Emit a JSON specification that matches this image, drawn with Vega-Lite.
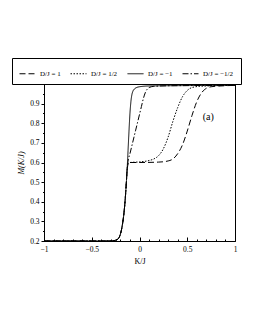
{
  "$schema": "https://vega.github.io/schema/vega-lite/v6.json",
  "width": 191,
  "height": 157,
  "autosize": "none",
  "padding": {"left": 44, "top": 84, "right": 20, "bottom": 89},
  "background": "white",
  "config": {
    "font": "Liberation Serif",
    "view": {"stroke": "black", "strokeWidth": 1},
    "axis": {"grid": false, "domainColor": "black", "tickColor": "black", "labelColor": "black", "titleColor": "black", "labelFont": "Liberation Serif", "titleFont": "Liberation Serif", "labelFontSize": 7.5, "titleFontSize": 8, "titleFontWeight": "normal", "labelFlush": false}
  },
  "resolve": {"axis": {"x": "independent", "y": "independent"}},
  "layer": [
    {
      "data": {"values": [
        {"s": "-1", "x": -1, "m": 0.2}, {"s": "-1", "x": -0.5, "m": 0.2}, {"s": "-1", "x": -0.3, "m": 0.2}, {"s": "-1", "x": -0.25, "m": 0.204}, {"s": "-1", "x": -0.22, "m": 0.213}, {"s": "-1", "x": -0.2, "m": 0.235}, {"s": "-1", "x": -0.18, "m": 0.28}, {"s": "-1", "x": -0.16, "m": 0.355}, {"s": "-1", "x": -0.15, "m": 0.41}, {"s": "-1", "x": -0.14, "m": 0.48}, {"s": "-1", "x": -0.13, "m": 0.56},
        {"s": "-1", "x": -0.12, "m": 0.66}, {"s": "-1", "x": -0.11, "m": 0.76}, {"s": "-1", "x": -0.1, "m": 0.85}, {"s": "-1", "x": -0.09, "m": 0.91}, {"s": "-1", "x": -0.08, "m": 0.945}, {"s": "-1", "x": -0.07, "m": 0.962}, {"s": "-1", "x": -0.05, "m": 0.976}, {"s": "-1", "x": -0.03, "m": 0.982}, {"s": "-1", "x": 0, "m": 0.986}, {"s": "-1", "x": 0.1, "m": 0.99}, {"s": "-1", "x": 0.5, "m": 0.992}, {"s": "-1", "x": 1, "m": 0.993},

        {"s": "-1/2", "x": -1, "m": 0.2}, {"s": "-1/2", "x": -0.5, "m": 0.2}, {"s": "-1/2", "x": -0.3, "m": 0.2}, {"s": "-1/2", "x": -0.25, "m": 0.204}, {"s": "-1/2", "x": -0.22, "m": 0.213}, {"s": "-1/2", "x": -0.2, "m": 0.235}, {"s": "-1/2", "x": -0.18, "m": 0.28}, {"s": "-1/2", "x": -0.16, "m": 0.355}, {"s": "-1/2", "x": -0.15, "m": 0.41}, {"s": "-1/2", "x": -0.14, "m": 0.48}, {"s": "-1/2", "x": -0.13, "m": 0.56},
        {"s": "-1/2", "x": -0.12, "m": 0.605}, {"s": "-1/2", "x": -0.1, "m": 0.645}, {"s": "-1/2", "x": -0.08, "m": 0.685}, {"s": "-1/2", "x": -0.06, "m": 0.725}, {"s": "-1/2", "x": -0.04, "m": 0.765}, {"s": "-1/2", "x": -0.02, "m": 0.805}, {"s": "-1/2", "x": 0, "m": 0.845}, {"s": "-1/2", "x": 0.02, "m": 0.885}, {"s": "-1/2", "x": 0.04, "m": 0.925}, {"s": "-1/2", "x": 0.06, "m": 0.955}, {"s": "-1/2", "x": 0.08, "m": 0.973}, {"s": "-1/2", "x": 0.1, "m": 0.982}, {"s": "-1/2", "x": 0.15, "m": 0.988}, {"s": "-1/2", "x": 0.3, "m": 0.991}, {"s": "-1/2", "x": 1, "m": 0.993},

        {"s": "1/2", "x": -1, "m": 0.2}, {"s": "1/2", "x": -0.5, "m": 0.2}, {"s": "1/2", "x": -0.3, "m": 0.2}, {"s": "1/2", "x": -0.25, "m": 0.204}, {"s": "1/2", "x": -0.22, "m": 0.213}, {"s": "1/2", "x": -0.2, "m": 0.235}, {"s": "1/2", "x": -0.18, "m": 0.28}, {"s": "1/2", "x": -0.16, "m": 0.355}, {"s": "1/2", "x": -0.15, "m": 0.41}, {"s": "1/2", "x": -0.14, "m": 0.48}, {"s": "1/2", "x": -0.13, "m": 0.56},
        {"s": "1/2", "x": -0.12, "m": 0.59}, {"s": "1/2", "x": -0.11, "m": 0.598}, {"s": "1/2", "x": -0.1, "m": 0.6}, {"s": "1/2", "x": 0, "m": 0.603}, {"s": "1/2", "x": 0.1, "m": 0.61}, {"s": "1/2", "x": 0.15, "m": 0.618}, {"s": "1/2", "x": 0.2, "m": 0.635}, {"s": "1/2", "x": 0.25, "m": 0.67}, {"s": "1/2", "x": 0.3, "m": 0.73}, {"s": "1/2", "x": 0.35, "m": 0.81}, {"s": "1/2", "x": 0.4, "m": 0.88}, {"s": "1/2", "x": 0.45, "m": 0.935}, {"s": "1/2", "x": 0.5, "m": 0.967}, {"s": "1/2", "x": 0.55, "m": 0.982}, {"s": "1/2", "x": 0.65, "m": 0.989}, {"s": "1/2", "x": 1, "m": 0.993},

        {"s": "1", "x": -1, "m": 0.2}, {"s": "1", "x": -0.5, "m": 0.2}, {"s": "1", "x": -0.3, "m": 0.2}, {"s": "1", "x": -0.25, "m": 0.204}, {"s": "1", "x": -0.22, "m": 0.213}, {"s": "1", "x": -0.2, "m": 0.235}, {"s": "1", "x": -0.18, "m": 0.28}, {"s": "1", "x": -0.16, "m": 0.355}, {"s": "1", "x": -0.15, "m": 0.41}, {"s": "1", "x": -0.14, "m": 0.48}, {"s": "1", "x": -0.13, "m": 0.56},
        {"s": "1", "x": -0.12, "m": 0.59}, {"s": "1", "x": -0.11, "m": 0.598}, {"s": "1", "x": -0.1, "m": 0.6}, {"s": "1", "x": 0, "m": 0.6}, {"s": "1", "x": 0.2, "m": 0.602}, {"s": "1", "x": 0.3, "m": 0.608}, {"s": "1", "x": 0.35, "m": 0.618}, {"s": "1", "x": 0.4, "m": 0.645}, {"s": "1", "x": 0.45, "m": 0.69}, {"s": "1", "x": 0.5, "m": 0.76}, {"s": "1", "x": 0.55, "m": 0.84}, {"s": "1", "x": 0.6, "m": 0.91}, {"s": "1", "x": 0.65, "m": 0.955}, {"s": "1", "x": 0.7, "m": 0.978}, {"s": "1", "x": 0.75, "m": 0.986}, {"s": "1", "x": 0.85, "m": 0.99}, {"s": "1", "x": 1, "m": 0.993}
      ]},
      "mark": {"type": "line", "interpolate": "monotone", "strokeWidth": 1, "color": "black"},
      "encoding": {
        "x": {"field": "x", "type": "quantitative", "scale": {"domain": [-1, 1], "nice": false, "zero": false},
          "axis": {"orient": "bottom", "title": "K/J", "values": [-1, -0.5, 0, 0.5, 1], "format": "", "labelFlush": false,
            "tickSize": -4, "labelPadding": 8, "titlePadding": 5}},
        "y": {"field": "m", "type": "quantitative", "scale": {"domain": [0.2, 1], "nice": false, "zero": false},
          "axis": {"orient": "left", "title": "M(K/J)", "titleFontStyle": "italic", "values": [0.2, 0.3, 0.4, 0.5, 0.6, 0.7, 0.8, 0.9], "format": ".1f", "labelFlush": false,
            "tickSize": 3, "labelPadding": 2, "titlePadding": 4}},
        "strokeDash": {"field": "s", "type": "nominal",
          "scale": {"domain": ["1", "1/2", "-1", "-1/2"], "range": [[6, 3], [1.5, 1.5], [1, 0], [6, 2, 1.5, 2]]},
          "legend": {"orient": "none", "legendX": -32, "legendY": -26, "direction": "horizontal", "columns": 4, "title": null,
            "strokeColor": "black", "padding": 7, "symbolType": "stroke", "symbolSize": 256, "symbolStrokeWidth": 1, "symbolStrokeColor": "black",
            "labelFont": "Liberation Serif", "labelFontSize": 7, "labelColor": "black", "columnPadding": 7, "labelOffset": 4,
            "labelExpr": "'D/J = ' + replace(datum.label, '-', '−')"}},
        "order": {"field": "x", "type": "quantitative"}
      }
    },
    {
      "data": {"values": [{"x": 0.72, "m": 0.83, "label": "(a)"}]},
      "mark": {"type": "text", "fontSize": 10, "font": "Liberation Serif", "color": "black"},
      "encoding": {
        "x": {"field": "x", "type": "quantitative", "scale": {"domain": [-1, 1], "nice": false, "zero": false},
          "axis": {"orient": "bottom", "title": null, "labels": false, "domain": false, "tickSize": -2,
            "values": [-0.9, -0.8, -0.7, -0.6, -0.4, -0.3, -0.2, -0.1, 0.1, 0.2, 0.3, 0.4, 0.6, 0.7, 0.8, 0.9]}},
        "y": {"field": "m", "type": "quantitative", "scale": {"domain": [0.2, 1], "nice": false, "zero": false},
          "axis": {"orient": "left", "title": null, "labels": false, "domain": false, "tickSize": 1.5,
            "values": [0.25, 0.35, 0.45, 0.55, 0.65, 0.75, 0.85, 0.95]}},
        "text": {"field": "label", "type": "nominal"}
      }
    }
  ]
}
